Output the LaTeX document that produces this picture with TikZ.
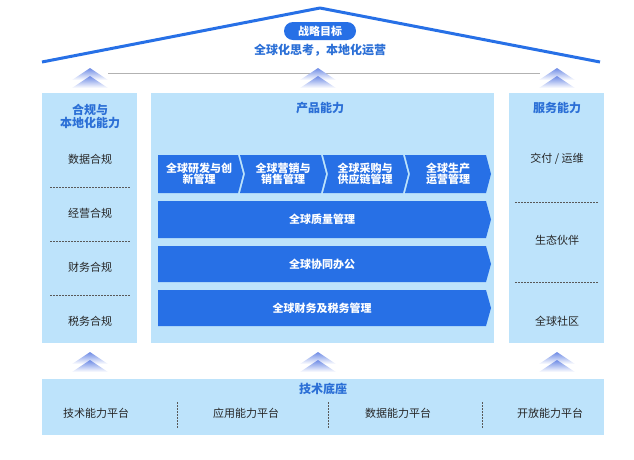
\documentclass[tikz,border=0pt]{standalone}
\usepackage{fontspec}
\setmainfont{Noto Sans CJK SC}
\begin{document}
\begin{tikzpicture}[x=1pt,y=-1pt,
  panel/.style={fill=lb,draw=none},
  bar/.style={fill=bb,draw=none},
  wt/.style={text=white,font=\fontsize{11}{14}\selectfont\bfseries,align=center},
  gt/.style={text=gray!30!black,font=\fontsize{11}{14}\selectfont},
  ht/.style={text=tb,font=\fontsize{12}{15}\selectfont\bfseries,align=center},
  dl/.style={draw=gray!70!black,dashed,dash pattern=on 2pt off 1pt,line width=0.5pt}]
\definecolor{lb}{HTML}{BDE3FB}
\definecolor{bb}{HTML}{2770E6}
\definecolor{tb}{HTML}{2B6FD6}
\definecolor{ac}{HTML}{6E8BE6}
\useasboundingbox (0,0) rectangle (634,459);
\newcommand{\uparr}[2]{%
  \shade[top color=ac,bottom color=white] (#1-18,#2+12) -- (#1,#2) -- (#1+18,#2+12) -- cycle;
  \shade[top color=ac,bottom color=white] (#1-18,#2+20) -- (#1,#2+8) -- (#1+18,#2+20) -- cycle;}
% roof
\draw[bb,line width=3pt,line join=round] (42,62) -- (320,8) -- (600,62);
\node[fill=bb,rounded corners=9pt,minimum width=72,minimum height=18,text=white,font=\fontsize{11}{14}\selectfont\bfseries,inner sep=0] (pill) at (320,31) {战略目标};
\node[text=tb,font=\fontsize{12}{15}\selectfont\bfseries] (goal) at (320,50) {全球化思考，本地化运营};
\draw[gray!60,line width=0.8pt] (108,73) -- (540,73);
\uparr{90}{68}\uparr{318}{68}\uparr{557}{68}
\uparr{90}{352}\uparr{318}{352}\uparr{557}{352}
% panels
\fill[panel] (42,93) rectangle (137,343);
\fill[panel] (151,93) rectangle (494,343);
\fill[panel] (509,93) rectangle (604,343);
\fill[panel] (42,379) rectangle (604,435);
% left
\node[ht] (lh) at (90,116) {合规与\\[-2pt]本地化能力};
\node[gt] (l1) at (90,159) {数据合规};
\node[gt] (l2) at (90,213) {经营合规};
\node[gt] (l3) at (90,267) {财务合规};
\node[gt] (l4) at (90,321) {税务合规};
\draw[dl] (50,187) -- (130,187);
\draw[dl] (50,241) -- (130,241);
\draw[dl] (50,295) -- (130,295);
% right
\node[ht] (rh) at (557,108) {服务能力};
\node[gt] (r1) at (557,159) {交付 / 运维};
\node[gt] (r2) at (557,240) {生态伙伴};
\node[gt] (r3) at (557,321) {全球社区};
\draw[dl] (515,202) -- (598,202);
\draw[dl] (515,282) -- (598,282);
% middle
\node[ht] (mh) at (320,108) {产品能力};
\fill[bar] (158,155) -- (238,155) -- (243,174) -- (238,193) -- (158,193) -- cycle;
\fill[bar] (240,155) -- (321,155) -- (326,174) -- (321,193) -- (240,193) -- (245,174) -- cycle;
\fill[bar] (323,155) -- (403,155) -- (408,174) -- (403,193) -- (323,193) -- (328,174) -- cycle;
\fill[bar] (405,155) -- (486,155) -- (491,174) -- (486,193) -- (405,193) -- (410,174) -- cycle;
\node[wt] (c1) at (199,174) {全球研发与创\\[-3pt]新管理};
\node[wt] (c2) at (283,174) {全球营销与\\[-3pt]销售管理};
\node[wt] (c3) at (365,174) {全球采购与\\[-3pt]供应链管理};
\node[wt] (c4) at (448,174) {全球生产\\[-3pt]运营管理};
\fill[bar] (158,201) -- (486,201) -- (491,219.5) -- (486,238) -- (158,238) -- cycle;
\fill[bar] (158,246) -- (486,246) -- (491,264) -- (486,282) -- (158,282) -- cycle;
\fill[bar] (158,290) -- (486,290) -- (491,308) -- (486,326) -- (158,326) -- cycle;
\node[wt] (b1) at (322,219.5) {全球质量管理};
\node[wt] (b2) at (322,264) {全球协同办公};
\node[wt] (b3) at (322,308) {全球财务及税务管理};
% bottom
\node[ht] (bh) at (323,389) {技术底座};
\node[gt] (t1) at (96,413) {技术能力平台};
\node[gt] (t2) at (246,413) {应用能力平台};
\node[gt] (t3) at (398,413) {数据能力平台};
\node[gt] (t4) at (550,413) {开放能力平台};
\draw[dl] (177,402) -- (177,428);
\draw[dl] (328,402) -- (328,428);
\draw[dl] (482,402) -- (482,428);
\end{tikzpicture}
\end{document}
